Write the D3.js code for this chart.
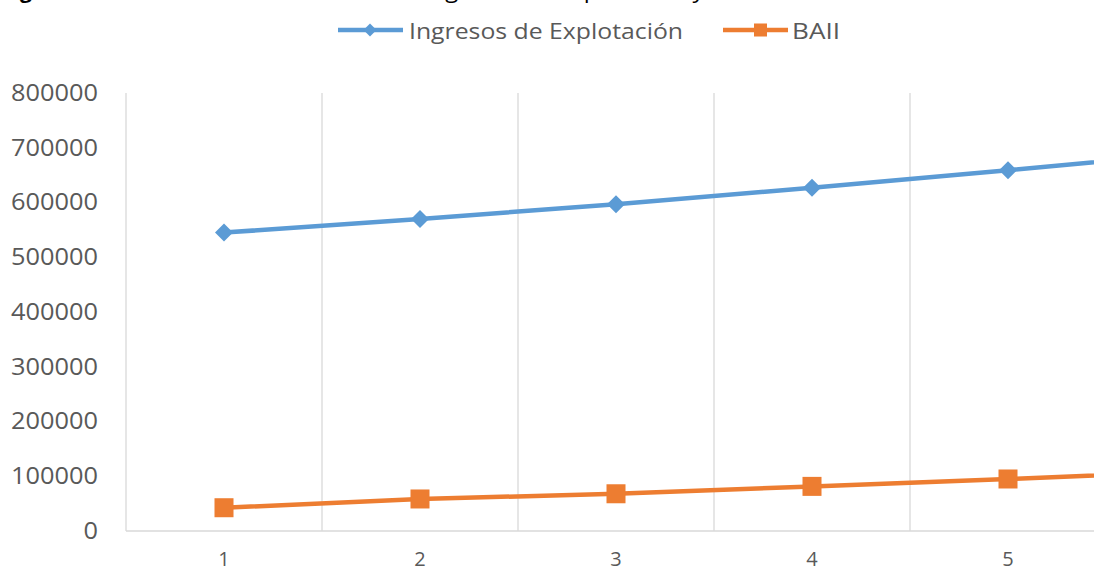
<!DOCTYPE html>
<html>
<head>
<meta charset="utf-8">
<script src="https://cdn.jsdelivr.net/npm/d3@7"></script>
<style>
  html, body { margin: 0; padding: 0; background: #fff; overflow: hidden; }
  svg { display: block; font-family: "Open Sans", "Noto Sans", sans-serif; }
</style>
</head>
<body>
<svg id="chart" width="1094" height="573"></svg>
<script>
// ---- data ----
const categories = ["1", "2", "3", "4", "5", "6"];
const ingresos = [545000, 570000, 597000, 627000, 659000, 692000];
const baii = [42500, 58500, 68000, 81500, 95000, 110000];
const yTicks = [0, 100000, 200000, 300000, 400000, 500000, 600000, 700000, 800000];
const seriesNames = ["Ingresos de Explotación", "BAII"];
const titleLead = "Figura 5.";
const titleMid = "Evolución de los";
const titleTail = "Ingresos de Explotación y BAII";

const W = 1094, H = 573;
const svg = d3.select("#chart");
const blue = "#5B9BD5", orange = "#ED7D31", grid = "#D9D9D9", txt = "#595959";

const x = d3.scaleBand().domain(categories).range([126, 126 + 196 * categories.length]).padding(0);
const y = d3.scaleLinear().domain([0, 800000]).range([531, 93]);

// title (cut off at top, as in the reference)
svg.append("text").attr("x", 2).attr("y", -2).attr("font-size", 21).attr("font-weight", "bold")
  .attr("fill", "#000").text(titleLead);
svg.append("text").attr("x", 418).attr("y", -2).attr("font-size", 21).attr("text-anchor", "end")
  .attr("fill", "#000").text(titleMid);
svg.append("text").attr("x", 424).attr("y", -2).attr("font-size", 21)
  .attr("fill", "#000").attr("textLength", 330).attr("lengthAdjust", "spacingAndGlyphs").text(titleTail);

// vertical gridlines at category boundaries
const gx = svg.append("g").attr("class", "x-grid")
  .attr("transform", "translate(0,531)")
  .call(d3.axisBottom(x).tickSizeInner(-438).tickSizeOuter(0).tickFormat(""));
gx.select(".domain").remove();
gx.selectAll(".tick line").attr("transform", `translate(${-x.bandwidth()/2},0)`)
  .attr("stroke", grid).attr("stroke-width", 1.3);
svg.append("line").attr("x1", x.range()[1]).attr("x2", x.range()[1]).attr("y1", 93).attr("y2", 531)
  .attr("stroke", grid).attr("stroke-width", 1.3);

// bottom axis line
svg.append("line").attr("x1", 126).attr("x2", x.range()[1]).attr("y1", 531).attr("y2", 531)
  .attr("stroke", grid).attr("stroke-width", 1.5);

// x labels (only those inside the visible frame)
const xa = svg.append("g").attr("transform", "translate(0,531)")
  .call(d3.axisBottom(x).tickSize(0).tickPadding(24));
xa.select(".domain").remove();
xa.selectAll(".tick").filter(d => x(d) + x.bandwidth() / 2 > W).select("text").remove();
xa.selectAll("text").attr("font-size", 20).attr("fill", txt).attr("font-family", "Open Sans, sans-serif")
  .attr("dy", "0.55em");

// y axis labels
const ya = svg.append("g").attr("transform", "translate(98,0)")
  .call(d3.axisLeft(y).tickValues(yTicks).tickSize(0).tickPadding(0).tickFormat(d3.format("d")));
ya.select(".domain").remove();
ya.selectAll("text").attr("font-size", 23).attr("fill", txt).attr("font-family", "Open Sans, sans-serif")
  .attr("textLength", d => String(d).length * 14.5).attr("lengthAdjust", "spacingAndGlyphs");

// lines
const line = vals => d3.line().x((d, i) => x(categories[i]) + x.bandwidth() / 2).y(d => y(d))(vals);
svg.append("path").attr("d", line(ingresos)).attr("fill", "none").attr("stroke", blue).attr("stroke-width", 4.5)
  .attr("stroke-linejoin", "round");
svg.append("path").attr("d", line(baii)).attr("fill", "none").attr("stroke", orange).attr("stroke-width", 4.5)
  .attr("stroke-linejoin", "round");

// markers
svg.append("g").selectAll("path").data(ingresos).join("path")
  .attr("d", d3.symbol().type(d3.symbolSquare).size(162))
  .attr("transform", (d, i) => `translate(${x(categories[i]) + x.bandwidth()/2},${y(d)}) rotate(45)`)
  .attr("fill", blue);
svg.append("g").selectAll("rect").data(baii).join("rect")
  .attr("x", (d, i) => x(categories[i]) + x.bandwidth()/2 - 9.5)
  .attr("y", d => y(d) - 9.5)
  .attr("width", 19).attr("height", 19)
  .attr("fill", orange);

// legend
const lg = svg.append("g");
lg.append("line").attr("x1", 338).attr("x2", 403).attr("y1", 30).attr("y2", 30).attr("stroke", blue).attr("stroke-width", 4.5);
lg.append("path").attr("d", d3.symbol().type(d3.symbolSquare).size(84)).attr("transform", "translate(370,30) rotate(45)").attr("fill", blue);
lg.append("text").attr("x", 409).attr("y", 38.5).attr("font-size", 21.5).attr("fill", txt)
  .attr("textLength", 274).attr("lengthAdjust", "spacingAndGlyphs").text(seriesNames[0]);
lg.append("line").attr("x1", 723).attr("x2", 788).attr("y1", 30).attr("y2", 30).attr("stroke", orange).attr("stroke-width", 4.5);
lg.append("rect").attr("x", 754).attr("y", 23.5).attr("width", 13).attr("height", 13).attr("fill", orange);
lg.append("text").attr("x", 792).attr("y", 38.5).attr("font-size", 21.5).attr("fill", txt)
  .attr("textLength", 48).attr("lengthAdjust", "spacingAndGlyphs").text(seriesNames[1]);
</script>
</body>
</html>
